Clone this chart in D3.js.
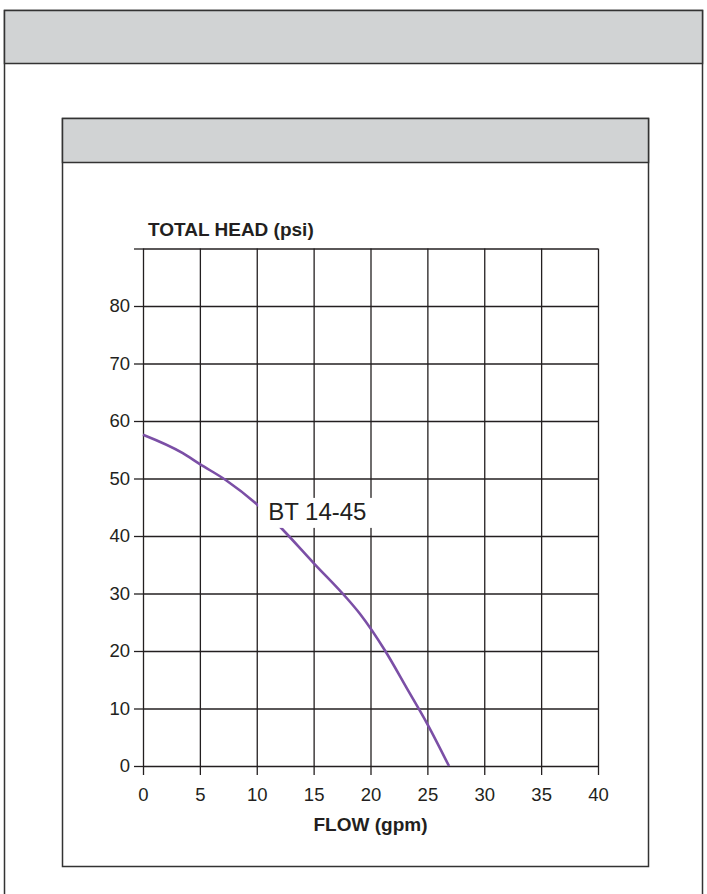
<!DOCTYPE html>
<html>
<head>
<meta charset="utf-8">
<script src="https://cdn.jsdelivr.net/npm/d3@7"></script>
<style>
  body { margin: 0; background: #fff; }
  svg { display: block; }
  .tick text { font-family: 'Liberation Sans', Arial, sans-serif; font-size: 18.5px; fill: #231f20; }
</style>
</head>
<body>
<div class="chart"></div>
<script>
// pump curve data
let flow = [0, 3.5, 5, 7.3, 10.3, 12, 15, 18, 19.1, 21.3, 23.2, 25, 26.9];
let head = [57.6, 54.4, 52.5, 49.7, 45, 41.7, 35.3, 29, 26.4, 20, 13.5, 7.3, 0];
let xTicks = [0, 5, 10, 15, 20, 25, 30, 35, 40];
let yTicks = [0, 10, 20, 30, 40, 50, 60, 70, 80, 90];
let yLabels = ['0', '10', '20', '30', '40', '50', '60', '70', '80', ''];
let seriesName = 'BT 14-45';
let labelAt = [11, 42.8];

let width = 707, height = 894;
let fontFamily = "'Liberation Sans', Arial, sans-serif";
let ink = '#231f20';
let panelGrey = '#d1d3d4';

let svg = d3.select('.chart')
    .append('svg')
    .attr('width', width)
    .attr('height', height);

// outer frame + header band
svg.append('rect')
    .attr('x', 4.5).attr('y', 10.5)
    .attr('width', 698).attr('height', 900)
    .attr('fill', 'none').attr('stroke', '#333').attr('stroke-width', 1.5);
svg.append('rect')
    .attr('x', 4.5).attr('y', 10.5)
    .attr('width', 698).attr('height', 53)
    .attr('fill', panelGrey).attr('stroke', '#333').attr('stroke-width', 1.5);

// inner frame + header band
svg.append('rect')
    .attr('x', 62.5).attr('y', 118.5)
    .attr('width', 586).attr('height', 748)
    .attr('fill', '#fff').attr('stroke', '#333').attr('stroke-width', 1.5);
svg.append('rect')
    .attr('x', 62.5).attr('y', 118.5)
    .attr('width', 586).attr('height', 44)
    .attr('fill', panelGrey).attr('stroke', '#333').attr('stroke-width', 1.5);

let x = d3.scaleLinear().domain([0, 40]).range([143, 598]);
let y = d3.scaleLinear().domain([0, 90]).range([766, 248.5]);
let plotW = x(40) - x(0);
let plotH = y(0) - y(90);

let g = svg.append('g');

// grid
g.append('g')
    .attr('transform', `translate(0, ${y(0)})`)
    .call(d3.axisBottom(x).tickValues(xTicks).tickSize(-plotH).tickFormat(''))
    .call(a => a.select('.domain').remove())
    .selectAll('line').attr('stroke', ink).attr('stroke-width', 1.3);
g.append('g')
    .attr('transform', `translate(${x(0)}, 0)`)
    .call(d3.axisLeft(y).tickValues(yTicks).tickSize(-plotW).tickFormat(''))
    .call(a => a.select('.domain').remove())
    .selectAll('line').attr('stroke', ink).attr('stroke-width', 1.3);

// x axis
g.append('g')
    .attr('transform', `translate(0, ${y(0)})`)
    .call(d3.axisBottom(x).tickValues(xTicks).tickSize(9).tickPadding(13))
    .call(a => a.select('.domain').remove())
    .call(a => a.selectAll('line').attr('stroke', ink).attr('stroke-width', 1.3));

// y axis
g.append('g')
    .attr('transform', `translate(${x(0)}, 0)`)
    .call(d3.axisLeft(y).tickValues(yTicks).tickSize(9).tickPadding(4)
        .tickFormat((d, i) => yLabels[i]))
    .call(a => a.select('.domain').remove())
    .call(a => a.selectAll('line').attr('stroke', ink).attr('stroke-width', 1.3));

g.append('text')
    .attr('x', 148).attr('y', 236)
    .attr('font-family', fontFamily).attr('font-weight', 'bold')
    .attr('font-size', '19px').attr('fill', ink)
    .text('TOTAL HEAD (psi)');

g.append('text')
    .attr('x', (x(0) + x(40)) / 2).attr('y', 831)
    .attr('text-anchor', 'middle')
    .attr('font-family', fontFamily).attr('font-weight', 'bold')
    .attr('font-size', '19px').attr('fill', ink)
    .text('FLOW (gpm)');

// curve
let line = d3.line()
    .x((d, i) => x(flow[i]))
    .y((d, i) => y(head[i]))
    .curve(d3.curveMonotoneX);
g.append('path')
    .datum(flow)
    .attr('d', line)
    .attr('fill', 'none')
    .attr('stroke', '#7b4fa6')
    .attr('stroke-width', 2.6);

// series label on white patch
let lx = x(labelAt[0]), ly = y(labelAt[1]);
g.append('rect')
    .attr('x', lx - 10).attr('y', ly - 22)
    .attr('width', 115).attr('height', 30)
    .attr('fill', '#fff');
g.append('text')
    .attr('x', lx).attr('y', ly)
    .attr('font-family', fontFamily)
    .attr('font-size', '24px').attr('fill', ink)
    .text(seriesName);
</script>
</body>
</html>
